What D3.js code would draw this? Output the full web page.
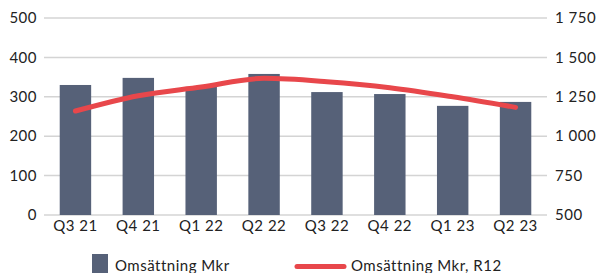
<!DOCTYPE html>
<html>
<head>
<meta charset="utf-8">
<script src="https://cdn.jsdelivr.net/npm/d3@7"></script>
<style>
  body { margin: 0; background: #fff; }
  text { font-family: Lato, "DejaVu Sans", sans-serif; fill: #222; letter-spacing: 0.5px; }
</style>
</head>
<body>
<div id="chart"></div>
<script>
// Data
const quarters = ["Q3 21", "Q4 21", "Q1 22", "Q2 22", "Q3 22", "Q4 22", "Q1 23", "Q2 23"];
const revenue = [330, 348, 325, 358, 312, 307, 277, 287];
const revenueR12 = [1160, 1257, 1312, 1367, 1346, 1308, 1250, 1183];
const leftTicks = [0, 100, 200, 300, 400, 500];
const rightTicks = [500, 750, 1000, 1250, 1500, 1750];

const W = 598, H = 273;
const margin = { top: 18, right: 51, bottom: 58, left: 44 };
const width = W - margin.left - margin.right;
const height = H - margin.top - margin.bottom;

const svg = d3.select("#chart").append("svg")
    .attr("width", W)
    .attr("height", H);

const g = svg.append("g")
    .attr("transform", "translate(" + margin.left + "," + margin.top + ")");

const x = d3.scaleBand()
    .domain(quarters)
    .range([0, width])
    .paddingInner(0.5)
    .paddingOuter(0.25);

const yL = d3.scaleLinear().domain([0, 500]).range([height, 0]);
const yR = d3.scaleLinear().domain([500, 1750]).range([height, 0]);

// grid lines
g.selectAll(".grid")
    .data(leftTicks)
    .enter().append("line")
    .attr("x1", 0)
    .attr("x2", width)
    .attr("y1", d => yL(d))
    .attr("y2", d => yL(d))
    .attr("stroke", "#d4d4d4")
    .attr("stroke-width", 1.5);

// left axis labels
g.selectAll(".ltick")
    .data(leftTicks)
    .enter().append("text")
    .attr("x", -7)
    .attr("y", d => yL(d))
    .attr("dy", "0.35em")
    .attr("text-anchor", "end")
    .style("font-size", "15px")
    .text(d => d);

// right axis labels
const fmt = d => d3.format(",")(d).replace(",", " ");
g.selectAll(".rtick")
    .data(rightTicks)
    .enter().append("text")
    .attr("x", width + 8)
    .attr("y", d => yR(d))
    .attr("dy", "0.35em")
    .attr("text-anchor", "start")
    .style("font-size", "15px")
    .text(fmt);

// bars
g.selectAll(".bar")
    .data(revenue)
    .enter().append("rect")
    .attr("x", (d, i) => x(quarters[i]))
    .attr("y", d => yL(d))
    .attr("width", x.bandwidth())
    .attr("height", d => height - yL(d))
    .attr("fill", "#566178");

// x labels
g.selectAll(".xlab")
    .data(quarters)
    .enter().append("text")
    .attr("x", d => x(d) + x.bandwidth() / 2)
    .attr("y", height + 16)
    .attr("text-anchor", "middle")
    .style("font-size", "15px")
    .text(d => d);

// R12 line
const line = d3.line()
    .x((d, i) => x(quarters[i]) + x.bandwidth() / 2)
    .y(d => yR(d))
    .curve(d3.curveMonotoneX);

g.append("path")
    .datum(revenueR12)
    .attr("d", line)
    .attr("fill", "none")
    .attr("stroke", "#e8474b")
    .attr("stroke-width", 5)
    .attr("stroke-linecap", "round")
    .attr("stroke-linejoin", "round");

// legend
const legend = svg.append("g");
legend.append("rect")
    .attr("x", 92)
    .attr("y", 254)
    .attr("width", 16)
    .attr("height", 19)
    .attr("fill", "#566178");
legend.append("text")
    .attr("x", 115)
    .attr("y", 271)
    .style("font-size", "15px")
    .text("Omsättning Mkr");

legend.append("line")
    .attr("x1", 297)
    .attr("x2", 344)
    .attr("y1", 266.5)
    .attr("y2", 266.5)
    .attr("stroke", "#e8474b")
    .attr("stroke-width", 5)
    .attr("stroke-linecap", "round");
legend.append("text")
    .attr("x", 351)
    .attr("y", 271)
    .style("font-size", "15px")
    .text("Omsättning Mkr, R12");
</script>
</body>
</html>
